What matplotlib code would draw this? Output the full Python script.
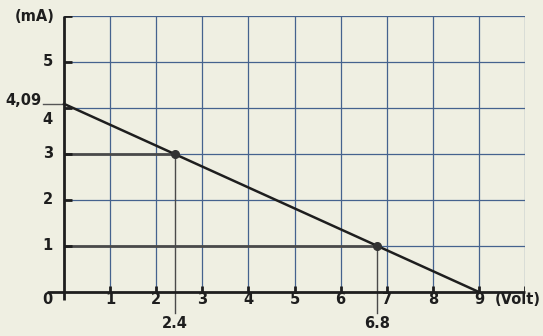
import matplotlib
matplotlib.use("Agg")
import matplotlib.pyplot as plt

# load line of the circuit: I = (9 - V) / 2.2  (mA)
v_line = [0.0, 9.0]
i_line = [4.09, 0.0]
op_v = [2.4, 6.8]
op_i = [3.0, 1.0]
op_labels = ["2.4", "6.8"]
x_ticks = [1, 2, 3, 4, 5, 6, 7, 8, 9]
y_ticks = [1, 2, 3, 4, 5]
intercept_label = "4,09"

bg = "#efefe2"
grid_c = "#45628e"
ink = "#1e1e1e"
font = dict(family=["Liberation Sans Narrow", "DejaVu Sans"], fontweight="bold",
            fontsize=10.5, color=ink)

fig = plt.figure(figsize=(5.43, 3.36), dpi=100, facecolor=bg)
ax = fig.add_axes([64 / 543, 1 - 292 / 336, (525 - 64) / 543, (292 - 16) / 336])
ax.set_facecolor(bg)
ax.set_xlim(0, 10)
ax.set_ylim(0, 6)
for s in ax.spines.values():
    s.set_visible(False)
ax.set_xticks([])
ax.set_yticks([])

# blue grid, including the outer border at x=10 and y=6
for x in range(1, 11):
    ax.plot([x, x], [0, 6], color=grid_c, lw=0.9, zorder=1)
for y in range(1, 7):
    ax.plot([0, 10], [y, y], color=grid_c, lw=0.9, zorder=1)

# axes
ax.plot([0, 0], [-0.18, 6], color=ink, lw=2.0, zorder=4, clip_on=False, solid_capstyle="butt")
ax.plot([-0.37, 10], [0, 0], color=ink, lw=2.0, zorder=4, clip_on=False, solid_capstyle="butt")

# tick stubs
for y in y_ticks + [6]:
    ax.plot([0, 0.17], [y, y], color=ink, lw=2.0, zorder=4, solid_capstyle="butt")
for x in x_ticks + [10]:
    ax.plot([x, x], [0, 0.12], color=ink, lw=2.0, zorder=4, solid_capstyle="butt")

# tick labels
for x in x_ticks:
    ax.text(x, -0.17, str(x), ha="center", va="center", **font)
for y in y_ticks:
    off = -0.24 if y == 4 else 0.0
    ax.text(-0.24, y + off, str(y), ha="right", va="center", **font)
ax.text(-0.24, -0.17, "0", ha="right", va="center", **font)
ax.text(-0.2, 5.98, "(mA)", ha="right", va="center", **font)
ax.text(9.85, -0.17, "(Volt)", ha="center", va="center", **font)

# intercept marker on the current axis
ax.plot([-0.45, 0], [i_line[0], i_line[0]], color="#555555", lw=1.0, clip_on=False, zorder=3)
ax.text(-0.48, i_line[0] + 0.08, intercept_label, ha="right", va="center", **font)

# load line
ax.plot(v_line, i_line, color=ink, lw=1.8, zorder=5, clip_on=False)

# operating points with projections
for v, i, lab in zip(op_v, op_i, op_labels):
    ax.plot([0, v], [i, i], color="#4a4a4a", lw=2.0, zorder=3)
    ax.plot([v, v], [i, -0.45], color="#4a4a4a", lw=1.0, zorder=3, clip_on=False)
    ax.plot(v, i, "o", color="#333333", ms=5.5, zorder=6)
    ax.text(v, -0.68, lab, ha="center", va="center", **font)

fig.savefig("out.png", dpi=100, facecolor=bg)
